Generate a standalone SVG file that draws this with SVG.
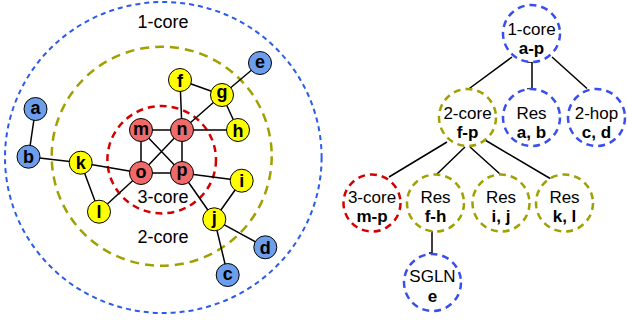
<svg xmlns="http://www.w3.org/2000/svg" width="627" height="322" viewBox="0 0 627 322">
<style>
.e{stroke:#000;stroke-width:1.5;fill:none}
.n{stroke:#000;stroke-width:1}
.bl{fill:#6d9eeb}.ye{fill:#ffff00}.rd{fill:#f06a6a}
.lb{font-family:"Liberation Sans",Arial,sans-serif;font-size:18px;font-weight:bold;text-anchor:middle;fill:#000}
.t{font-family:"Liberation Sans",Arial,sans-serif;font-size:18px;text-anchor:middle;fill:#000}
.tt{font-family:"Liberation Sans",Arial,sans-serif;font-size:17px;text-anchor:middle;fill:#000}
.tb{font-weight:bold}
.rb{fill:none;stroke:#2a5bea;stroke-width:2;stroke-dasharray:5 4}
.ro{fill:none;stroke:#a0a000;stroke-width:2.5;stroke-dasharray:9 6}
.rr{fill:none;stroke:#d40000;stroke-width:2.5;stroke-dasharray:7 5}
.tbn{fill:#fff;stroke:#3a4ef0;stroke-width:2.5;stroke-dasharray:7 5}
.ton{fill:#fff;stroke:#a0a000;stroke-width:2.5;stroke-dasharray:7 5}
.trn{fill:#fff;stroke:#d40000;stroke-width:2.5;stroke-dasharray:7 5}
</style>
<g id="rings">
<ellipse class="rb" cx="163.3" cy="157.5" rx="158.3" ry="155.5"/>
<ellipse class="ro" cx="161.7" cy="156.2" rx="110" ry="109.5"/>
<ellipse class="rr" cx="161.7" cy="159.7" rx="54.3" ry="53.7"/>
<text class="t" x="163" y="28">1-core</text>
<text class="t" x="163" y="203">3-core</text>
<text class="t" x="163" y="243">2-core</text>
</g>
<g id="connectors">
<path class="e" d="M35.5,109 L28.5,156.7 M28.5,156.7 L80.7,162.7 M80.7,162.7 L141,173 M80.7,162.7 L99,211.7 M99,211.7 L141,173 M141,130 L182,130 M141,130 L141,173 M141,130 L182,173 M182,130 L141,173 M182,130 L182,173 M141,173 L182,173 M180,80 L182,130 M180,80 L222,95 M222,95 L260,63 M222,95 L182,130 M222,95 L238,130 M182,130 L238,130 M182,173 L241.7,180.7 M182,173 L214.3,219.3 M241.7,180.7 L214.3,219.3 M214.3,219.3 L265.3,247.3 M214.3,219.3 L227.7,275"/>
<path class="e" d="M512,57 L468,89.5 M527,62 H532 V89 H527 M552,57 L587,88.5 M447,142 L389,177 M465,147 L437,174 M470,147 L500,174 M485,140 L551,179 M435,230 H432 V253 H429"/>
</g>
<g id="node-a"><circle class="n bl" cx="35.5" cy="109" r="11.5"/><text class="lb" x="35.5" y="113.7">a</text></g>
<g id="node-b"><circle class="n bl" cx="28.5" cy="156.7" r="11.5"/><text class="lb" x="28.5" y="163.2">b</text></g>
<g id="node-e"><circle class="n bl" cx="260" cy="63" r="11.5"/><text class="lb" x="260" y="67.7">e</text></g>
<g id="node-d"><circle class="n bl" cx="265.3" cy="247.3" r="11.5"/><text class="lb" x="265.3" y="253.8">d</text></g>
<g id="node-c"><circle class="n bl" cx="227.7" cy="275" r="11.5"/><text class="lb" x="227.7" y="279.7">c</text></g>
<g id="node-f"><circle class="n ye" cx="180" cy="80" r="11.5"/><text class="lb" x="180" y="86.5">f</text></g>
<g id="node-g"><circle class="n ye" cx="222" cy="95" r="11.5"/><text class="lb" x="222" y="97.8">g</text></g>
<g id="node-h"><circle class="n ye" cx="238" cy="130" r="11.5"/><text class="lb" x="238" y="136.5">h</text></g>
<g id="node-k"><circle class="n ye" cx="80.7" cy="162.7" r="11.5"/><text class="lb" x="80.7" y="169.2">k</text></g>
<g id="node-l"><circle class="n ye" cx="99" cy="211.7" r="11.5"/><text class="lb" x="99" y="218.2">l</text></g>
<g id="node-i"><circle class="n ye" cx="241.7" cy="180.7" r="11.5"/><text class="lb" x="241.7" y="187.2">i</text></g>
<g id="node-j"><circle class="n ye" cx="214.3" cy="219.3" r="11.5"/><text class="lb" x="214.3" y="223.9">j</text></g>
<g id="node-m"><circle class="n rd" cx="141" cy="130" r="11.5"/><text class="lb" x="141" y="134.7">m</text></g>
<g id="node-n"><circle class="n rd" cx="182" cy="130" r="11.5"/><text class="lb" x="182" y="134.7">n</text></g>
<g id="node-o"><circle class="n rd" cx="141" cy="173" r="11.5"/><text class="lb" x="141" y="177.7">o</text></g>
<g id="node-p"><circle class="n rd" cx="182" cy="173" r="11.5"/><text class="lb" x="182" y="175.8">p</text></g>
<g id="tree-1core"><circle class="tbn" cx="531.5" cy="33.5" r="28.5"/><text class="tt" x="531.5" y="34.5">1-core</text><text class="tt tb" x="531.5" y="53.5">a-p</text></g>
<g id="tree-2core"><circle class="ton" cx="467.5" cy="117.5" r="28.5"/><text class="tt" x="467.5" y="118.5">2-core</text><text class="tt tb" x="467.5" y="137.5">f-p</text></g>
<g id="tree-resab"><circle class="tbn" cx="531.5" cy="117.5" r="28.5"/><text class="tt" x="531.5" y="118.5">Res</text><text class="tt tb" x="531.5" y="137.5">a, b</text></g>
<g id="tree-2hop"><circle class="tbn" cx="596.5" cy="117.5" r="28.5"/><text class="tt" x="596.5" y="118.5">2-hop</text><text class="tt tb" x="596.5" y="137.5">c, d</text></g>
<g id="tree-3core"><circle class="trn" cx="372" cy="203" r="28.5"/><text class="tt" x="372" y="203">3-core</text><text class="tt tb" x="372" y="222">m-p</text></g>
<g id="tree-resfh"><circle class="ton" cx="435.5" cy="203" r="28.5"/><text class="tt" x="435.5" y="203">Res</text><text class="tt tb" x="435.5" y="222">f-h</text></g>
<g id="tree-resij"><circle class="ton" cx="501" cy="203" r="28.5"/><text class="tt" x="501" y="203">Res</text><text class="tt tb" x="501" y="222">i, j</text></g>
<g id="tree-reskl"><circle class="ton" cx="564.5" cy="203" r="28.5"/><text class="tt" x="564.5" y="203">Res</text><text class="tt tb" x="564.5" y="222">k, l</text></g>
<g id="tree-sgln"><circle class="tbn" cx="432.5" cy="282.5" r="28.5"/><text class="tt" x="432.5" y="282">SGLN</text><text class="tt tb" x="432.5" y="301.5">e</text></g>
</svg>
